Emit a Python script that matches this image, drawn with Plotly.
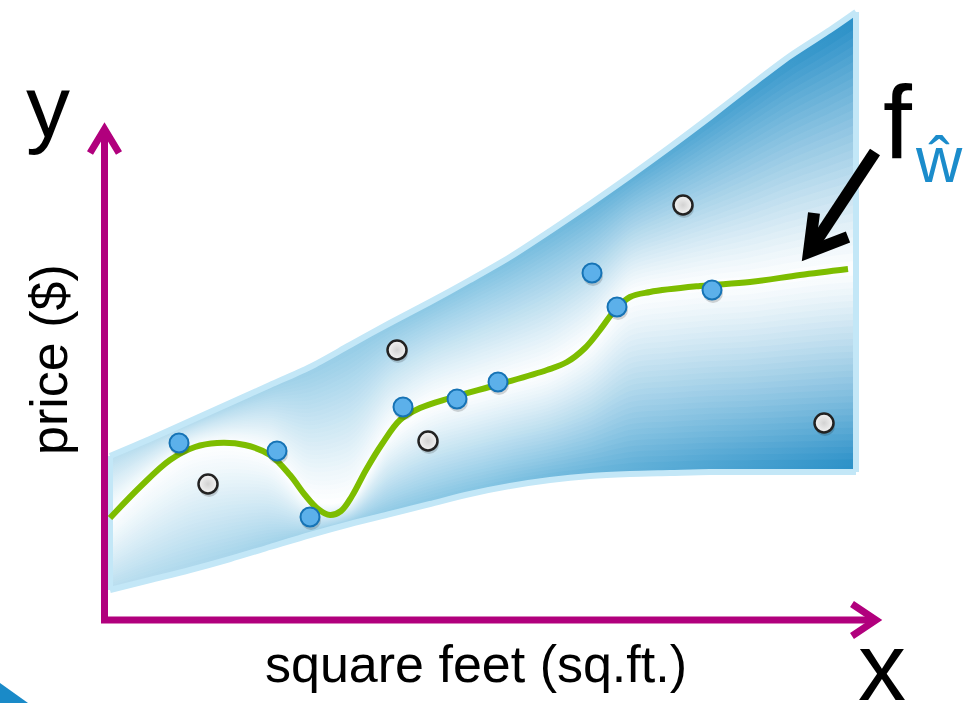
import numpy as np
import plotly.graph_objects as go

# ---------------- data ----------------
fit_sqft = [110, 140, 170, 195, 217, 245, 270, 290, 305, 318, 330, 341, 352, 366, 382, 400, 420,
            450, 500, 547, 567, 585, 600, 615, 630, 650, 700, 750, 800, 848]
fit_price = [185, 216, 243, 256, 260, 258, 248, 228, 208, 194, 188, 192, 207, 233, 259, 283, 295,
             305, 319, 333, 341, 355, 373, 393, 406, 411, 417, 421, 428, 434]

blue_sqft = [179, 277, 310, 403, 457, 498, 592, 617, 712]
blue_price = [260, 252, 186, 296, 304, 321, 430, 396, 413]

gray_sqft = [208, 397, 428, 683, 824]
gray_price = [219, 353, 262, 498, 280]

band_sqft = [110, 150, 190, 230, 270, 310, 350, 390, 430, 470, 510, 550, 590, 630, 670, 710,
             750, 790, 830, 856]
band_upper = [247, 264, 282, 300, 318, 336, 358, 380, 401, 423, 446, 472, 499, 527, 556, 586,
              617, 647, 673, 691]
band_lower = [113, 123, 133, 144, 156, 168, 179, 189, 199, 209, 217, 223, 227, 229, 230, 231,
              231, 231, 231, 231]

# ---------------- styling ----------------
FONT = "Arial, Liberation Sans, sans-serif"
MAGENTA = "#b1007d"
GREEN = "#7dbd00"
RIM = "#c3e7f7"
EDGE_COLS = [(186, 222, 239), (132, 196, 227), (44, 145, 200)]

fig = go.Figure()

bx = np.array(band_sqft, dtype=float)
U = np.array(band_upper, dtype=float)
L = np.array(band_lower, dtype=float)
C = np.interp(bx, fit_sqft, fit_price)


def mix(rgb, f):
    r, g, b = [int(round(255 + (c - 255) * f)) for c in rgb]
    return f"rgb({r},{g},{b})"


N = 32
for k in range(N, 0, -1):
    t = k / N
    f = min(1.0, t ** 1.2 * 1.03)
    up = C + t * (U - C)
    lo = C + t * (L - C)
    grad = dict(type="horizontal", start=110, stop=856,
                colorscale=[[0, mix(EDGE_COLS[0], f)],
                            [0.5, mix(EDGE_COLS[1], f)],
                            [1, mix(EDGE_COLS[2], f)]])
    fig.add_trace(go.Scatter(x=bx, y=lo, mode="lines",
                             line=dict(width=0, shape="spline", smoothing=0.8),
                             hoverinfo="skip", showlegend=False))
    fig.add_trace(go.Scatter(x=bx, y=up, mode="lines", fill="tonexty",
                             line=dict(width=0, shape="spline", smoothing=0.8),
                             fillgradient=grad, hoverinfo="skip", showlegend=False))

# rim of the band
fig.add_trace(go.Scatter(x=bx, y=U, mode="lines",
                         line=dict(color=RIM, width=6, shape="spline", smoothing=0.8),
                         hoverinfo="skip", showlegend=False))
fig.add_trace(go.Scatter(x=bx, y=L, mode="lines",
                         line=dict(color=RIM, width=6, shape="spline", smoothing=0.8),
                         hoverinfo="skip", showlegend=False))
fig.add_trace(go.Scatter(x=[bx[0], bx[0]], y=[L[0], U[0]], mode="lines",
                         line=dict(color=RIM, width=6), hoverinfo="skip", showlegend=False))
fig.add_trace(go.Scatter(x=[bx[-1], bx[-1]], y=[L[-1], U[-1]], mode="lines",
                         line=dict(color=RIM, width=6), hoverinfo="skip", showlegend=False))

# fitted curve
fig.add_trace(go.Scatter(x=fit_sqft, y=fit_price, mode="lines",
                         line=dict(color=GREEN, width=6, shape="spline", smoothing=1.0),
                         hoverinfo="skip", showlegend=False))

# marker shadows
sh_x = blue_sqft + gray_sqft
sh_y = [v - 3 for v in blue_price + gray_price]
fig.add_trace(go.Scatter(x=[v + 1 for v in sh_x], y=sh_y, mode="markers",
                         marker=dict(size=20, color="rgba(0,0,0,0.16)", line=dict(width=0)),
                         hoverinfo="skip", showlegend=False))

fig.add_trace(go.Scatter(x=blue_sqft, y=blue_price, mode="markers",
                         marker=dict(size=19, color="#5cb0ea",
                                     line=dict(color="#1673b5", width=2)),
                         hoverinfo="skip", showlegend=False))
fig.add_trace(go.Scatter(x=gray_sqft, y=gray_price, mode="markers",
                         marker=dict(size=19, color="#f4f4f4",
                                     gradient=dict(type="radial", color="#d2d2d2"),
                                     line=dict(color="#222222", width=2.5)),
                         hoverinfo="skip", showlegend=False))

# ---------------- decorations (axes arrows, pointer arrow) ----------------
shapes = []
# vertical axis
shapes.append(dict(type="line", x0=104.5, y0=80, x1=104.5, y1=572,
                   line=dict(color=MAGENTA, width=7), layer="above"))
shapes.append(dict(type="path", path="M 90,550 L 104.5,574 L 119,550",
                   line=dict(color=MAGENTA, width=7), layer="above"))
# horizontal axis
shapes.append(dict(type="line", x0=101, y0=83, x1=874, y1=83,
                   line=dict(color=MAGENTA, width=7), layer="above"))
shapes.append(dict(type="path", path="M 852,99 L 876,83 L 852,67",
                   line=dict(color=MAGENTA, width=7), layer="above"))
# black pointer arrow
shapes.append(dict(type="line", x0=875, y0=551, x1=811, y1=454,
                   line=dict(color="black", width=12), layer="above"))
shapes.append(dict(type="path", path="M 814,490 L 809,451 L 848,466",
                   line=dict(color="black", width=12), layer="above"))
# cut-off blue corner piece
shapes.append(dict(type="path", path="M 0,20 L 28,0 L 0,0 Z",
                   fillcolor="#1a8ac8", line=dict(width=0), layer="above"))

annotations = [
    dict(x=48, y=597, text="y", showarrow=False, font=dict(family=FONT, size=88, color="black")),
    dict(x=898, y=581, text="f", showarrow=False, font=dict(family=FONT, size=104, color="black")),
    dict(x=939, y=543, text="ŵ", showarrow=False, font=dict(family=FONT, size=64, color="#1b8ccb")),
    dict(x=882, y=37, text="x", showarrow=False, font=dict(family=FONT, size=96, color="black")),
    dict(x=49, y=343, text="price ($)", textangle=-90, showarrow=False,
         font=dict(family=FONT, size=52, color="black")),
    dict(x=476, y=39, text="square feet (sq.ft.)", showarrow=False,
         font=dict(family=FONT, size=52, color="black")),
]

fig.update_layout(
    width=966, height=703,
    margin=dict(l=0, r=0, t=0, b=0),
    paper_bgcolor="white", plot_bgcolor="white",
    xaxis=dict(range=[0, 966], visible=False, fixedrange=True),
    yaxis=dict(range=[0, 703], visible=False, fixedrange=True),
    shapes=shapes, annotations=annotations, showlegend=False,
)

fig.write_html("out.html", config={"displayModeBar": False},
               post_script="document.body.style.margin='0';")
